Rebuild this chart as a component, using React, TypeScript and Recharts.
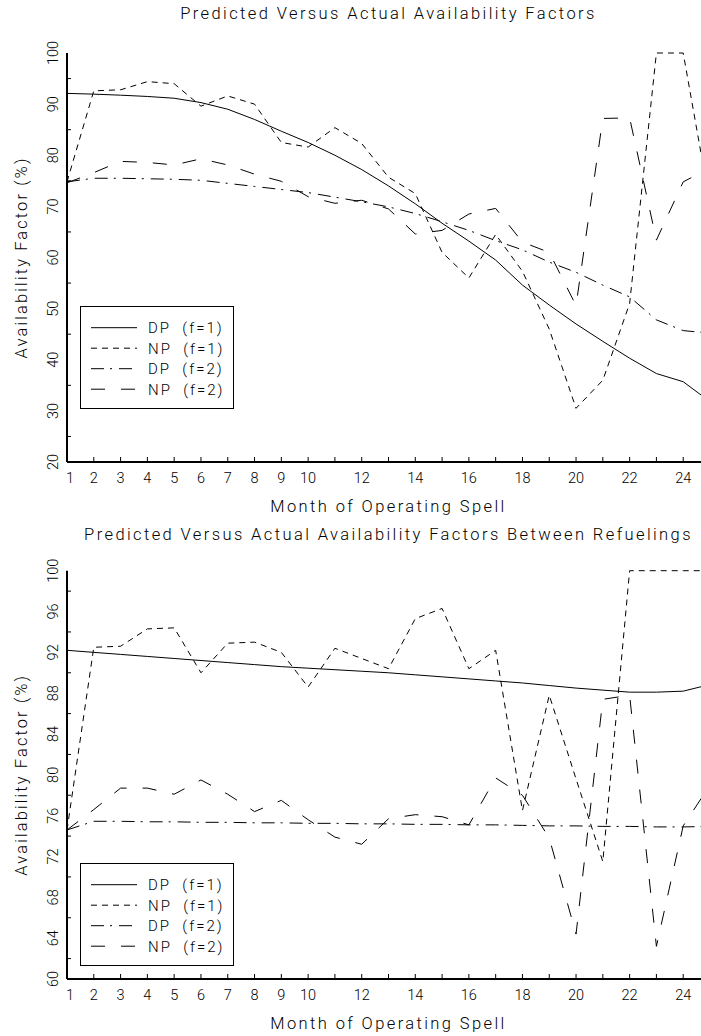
import React from 'react';
import { LineChart, Line, XAxis, YAxis, Legend, Label } from 'recharts';

// ---------- data ----------
const months = [1, 2, 3, 4, 5, 6, 7, 8, 9, 10, 11, 12, 13, 14, 15, 16, 17, 18, 19, 20, 21, 22, 23, 24, 25];
const xTickLabels = [1, 2, 3, 4, 5, 6, 7, 8, 9, 10, 12, 14, 16, 18, 20, 22, 24];

// Chart 1: Predicted Versus Actual Availability Factors
const topDpF1 = [92.1, 91.95, 91.75, 91.5, 91.15, 90.3, 89.0, 87.0, 84.7, 82.5, 80.0, 77.2, 74.0, 70.5, 66.7, 63.2, 59.5, 54.6, 50.7, 47.0, 43.6, 40.3, 37.3, 35.7, 31.8];
const topNpF1 = [74.8, 92.6, 92.8, 94.4, 94.0, 89.6, 91.6, 90.0, 82.5, 81.6, 85.4, 82.3, 75.7, 72.5, 61.0, 56.0, 64.5, 57.3, 46.0, 30.5, 36.0, 51.0, 100, 100, 70.5];
const topDpF2 = [74.8, 75.5, 75.5, 75.4, 75.3, 75.1, 74.5, 73.9, 73.3, 72.7, 71.8, 70.9, 69.9, 68.6, 67.0, 65.3, 63.3, 61.5, 59.1, 57.1, 54.6, 52.3, 47.8, 45.7, 45.2];
const topNpF2 = [74.6, 76.6, 78.8, 78.6, 78.1, 79.3, 78.1, 76.3, 74.9, 71.9, 70.6, 71.2, 69.5, 64.6, 65.3, 68.5, 69.6, 63.0, 61.0, 50.6, 87.2, 87.3, 63.4, 74.8, 77.5];
const topYTicks = [20, 25, 30, 35, 40, 45, 50, 55, 60, 65, 70, 75, 80, 85, 90, 95, 100];
const topYLabels = [20, 30, 40, 50, 60, 70, 80, 90, 100];

// Chart 2: ... Between Refuelings
const botDpF1 = [92.2, 92.0, 91.8, 91.6, 91.4, 91.2, 91.0, 90.8, 90.6, 90.45, 90.3, 90.15, 90.0, 89.8, 89.6, 89.4, 89.2, 89.0, 88.75, 88.5, 88.3, 88.1, 88.1, 88.2, 88.85];
const botNpF1 = [74.6, 92.5, 92.6, 94.3, 94.4, 90.0, 92.9, 93.0, 92.0, 88.6, 92.4, 91.4, 90.4, 95.3, 96.3, 90.4, 92.2, 76.5, 87.8, 79.6, 71.5, 100, 100, 100, 100];
const botDpF2 = [74.6, 75.45, 75.45, 75.4, 75.4, 75.35, 75.35, 75.3, 75.3, 75.25, 75.25, 75.2, 75.2, 75.15, 75.15, 75.1, 75.1, 75.05, 75.0, 75.0, 74.95, 74.95, 74.9, 74.9, 74.95];
const botNpF2 = [74.6, 76.6, 78.7, 78.7, 78.1, 79.5, 78.1, 76.4, 77.5, 75.6, 73.9, 73.2, 75.7, 76.1, 75.9, 75.1, 79.7, 78.0, 73.8, 64.4, 87.4, 87.8, 63.2, 75.0, 79.0];
const botYTicks = [60, 62, 64, 66, 68, 70, 72, 74, 76, 78, 80, 82, 84, 86, 88, 90, 92, 94, 96, 98, 100];
const botYLabels = [60, 64, 68, 72, 76, 80, 84, 88, 92, 96, 100];

const seriesNames = ['DP  (f=1)', 'NP  (f=1)', 'DP  (f=2)', 'NP  (f=2)'];
const seriesKeys = ['dpF1', 'npF1', 'dpF2', 'npF2'];
const seriesDash = [undefined, '6 5', '13 6 2 7', '14 16'];

const buildRows = (a: number[], b: number[], c: number[], d: number[]) =>
  months.map((m, i) => ({ m, dpF1: a[i], npF1: b[i], dpF2: c[i], npF2: d[i] }));

const topData = buildRows(topDpF1, topNpF1, topDpF2, topNpF2);
const botData = buildRows(botDpF1, botNpF1, botDpF2, botNpF2);

// ---------- styles ----------
const FONT = 'Roboto, "DejaVu Sans", sans-serif';
const titleStyle: React.CSSProperties = { fontFamily: FONT, fontSize: 16.5, fontWeight: 300, letterSpacing: 2.4, fill: '#000' };
const tickStyle: React.CSSProperties = { fontFamily: FONT, fontSize: 14.5, fontWeight: 300, fill: '#000' };

const CHART_W = 712;
const Y_AXIS_W = 59;
const RIGHT_M = 10;
const PLOT_W = CHART_W - Y_AXIS_W - RIGHT_M;

const TopTick = (props: any) => {
  const { x, y } = props;
  return <line x1={x} x2={x} y1={y} y2={y + 5} stroke="#000" strokeWidth={1} />;
};

const BottomTick = (props: any) => {
  const { x, y, payload } = props;
  const v = payload.value;
  return (
    <g>
      <line x1={x} x2={x} y1={y} y2={y - 5} stroke="#000" strokeWidth={1} />
      {xTickLabels.includes(v) ? (
        <text x={v === 1 ? x + 3 : x} y={y + 21} textAnchor="middle" style={tickStyle}>
          {v}
        </text>
      ) : null}
    </g>
  );
};

const makeYTick = (labels: number[]) => (props: any) => {
  const { x, y, payload } = props;
  const v = payload.value;
  if (labels.includes(v)) {
    const tx = x - 9;
    return (
      <text x={tx} y={y} textAnchor="middle" transform={`rotate(-90 ${tx} ${y})`} style={tickStyle}>
        {v}
      </text>
    );
  }
  return <line x1={x} x2={x + 4} y1={y} y2={y} stroke="#000" strokeWidth={1} />;
};

const renderLegend = () => (
  <div
    style={{
      width: 154,
      height: 103,
      border: '1px solid #000',
      boxSizing: 'border-box',
      background: '#fff',
    }}
  >
    <svg width={152} height={101} style={{ display: 'block' }}>
      {seriesNames.map((n, i) => {
        const cy = 20.7 + 20.5 * i;
        return (
          <g key={n}>
            <line x1={10} x2={56} y1={cy} y2={cy} stroke="#000" strokeWidth={1} strokeDasharray={seriesDash[i]} />
            <text
              x={67}
              y={cy + 5.3}
              style={{ fontFamily: FONT, fontSize: 15, fontWeight: 300, letterSpacing: 2.0, fill: '#000' }}
              xmlSpace="preserve"
            >
              {n}
            </text>
          </g>
        );
      })}
    </svg>
  </div>
);

type ChartProps = {
  title: string;
  titleGap: number;
  data: any[];
  yDomain: [number, number];
  yTicks: number[];
  yLabels: number[];
  height: number;
  plotTop: number;
  plotBottom: number;
  legendTop: number;
};

function AvailabilityChart({ title, titleGap, data, yDomain, yTicks, yLabels, height, plotTop, plotBottom, legendTop }: ChartProps) {
  const yTick = makeYTick(yLabels);
  return (
    <LineChart width={CHART_W} height={height} data={data} margin={{ top: plotTop, right: RIGHT_M, bottom: 0, left: 0 }}>
      <XAxis
        xAxisId="top"
        orientation="top"
        type="number"
        dataKey="m"
        domain={[1, 25]}
        ticks={months}
        interval={0}
        height={0}
        tickSize={0}
        tickMargin={0}
        tickLine={false}
        axisLine={{ stroke: '#000', strokeWidth: 2 }}
        tick={TopTick}
      />
      <XAxis
        xAxisId="bottom"
        orientation="bottom"
        type="number"
        dataKey="m"
        domain={[1, 25]}
        ticks={months}
        interval={0}
        height={height - plotBottom}
        tickSize={0}
        tickMargin={0}
        tickLine={false}
        axisLine={{ stroke: '#000', strokeWidth: 2 }}
        tick={BottomTick}
        label={
          <Label
            content={(p: any) => {
              const vb = p.viewBox || {};
              return (
                <text x={vb.x + vb.width / 2} y={vb.y + 50} textAnchor="middle" style={titleStyle}>
                  Month of Operating Spell
                </text>
              );
            }}
          />
        }
      />
      <YAxis
        yAxisId="y"
        type="number"
        domain={yDomain}
        ticks={yTicks}
        interval={0}
        width={Y_AXIS_W}
        tickSize={0}
        tickMargin={0}
        tickLine={false}
        axisLine={{ stroke: '#000', strokeWidth: 2 }}
        tick={yTick}
        label={
          <Label
            content={(p: any) => {
              const vb = p.viewBox || {};
              const cx = vb.x + 19;
              const cy = vb.y + vb.height / 2;
              const titleX = vb.x + vb.width + PLOT_W / 2;
              return (
                <g>
                  <text
                    x={cx}
                    y={cy}
                    textAnchor="middle"
                    transform={`rotate(-90 ${cx} ${cy})`}
                    style={{ ...titleStyle, letterSpacing: 2.1 }}
                  >
                    Availability Factor (%)
                  </text>
                  <text x={titleX} y={vb.y - titleGap} textAnchor="middle" style={titleStyle}>
                    {title}
                  </text>
                </g>
              );
            }}
          />
        }
      />
      <Legend
        layout="vertical"
        align="center"
        verticalAlign="middle"
        content={renderLegend}
        wrapperStyle={{ left: 72, top: legendTop, width: 154, height: 103 }}
      />
      {seriesKeys.map((k, i) => (
        <Line
          key={k}
          xAxisId="bottom"
          yAxisId="y"
          type="linear"
          dataKey={k}
          name={seriesNames[i]}
          stroke="#000"
          strokeWidth={1}
          strokeDasharray={seriesDash[i]}
          dot={false}
          activeDot={false}
          isAnimationActive={false}
        />
      ))}
    </LineChart>
  );
}

export default function App() {
  return (
    <div
      style={{
        position: 'absolute',
        left: 8,
        top: 0,
        width: 693,
        height: 1036,
        overflow: 'hidden',
        background: '#fff',
      }}
    >
      <AvailabilityChart
        title="Predicted Versus Actual Availability Factors"
        titleGap={34}
        data={topData}
        yDomain={[20, 100]}
        yTicks={topYTicks}
        yLabels={topYLabels}
        height={518}
        plotTop={53}
        plotBottom={462}
        legendTop={306}
      />
      <AvailabilityChart
        title="Predicted Versus Actual Availability Factors Between Refuelings"
        titleGap={30.7}
        data={botData}
        yDomain={[60, 100]}
        yTicks={botYTicks}
        yLabels={botYLabels}
        height={518}
        plotTop={52.7}
        plotBottom={461}
        legendTop={345}
      />
    </div>
  );
}
